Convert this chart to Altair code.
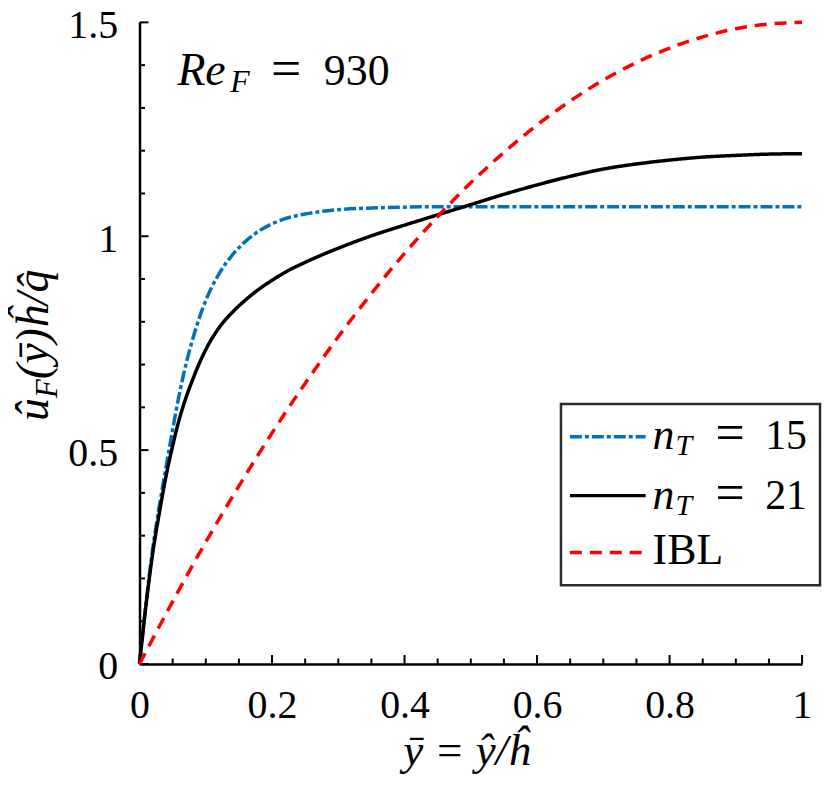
import altair as alt
import pandas as pd

# ---- data ----
x_t = [0, 0.01, 0.02, 0.03, 0.04, 0.05, 0.06, 0.07, 0.08, 0.09, 0.10, 0.12, 0.14,
       0.16, 0.18, 0.20, 0.22, 0.25, 0.30, 0.35, 0.40, 0.45, 0.50, 0.55, 0.60,
       0.65, 0.70, 0.75, 0.80, 0.85, 0.90, 0.95, 1.00]
u_n15 = [0, 0.145, 0.27, 0.37, 0.46, 0.548, 0.63, 0.70, 0.758, 0.808, 0.85, 0.912,
         0.956, 0.988, 1.012, 1.029, 1.041, 1.052, 1.062, 1.066, 1.068, 1.069, 1.069,
         1.069, 1.069, 1.069, 1.069, 1.069, 1.069, 1.069, 1.069, 1.069, 1.069]
u_n21 = [0, 0.14, 0.26, 0.354, 0.439, 0.51, 0.572, 0.622, 0.664, 0.702, 0.735, 0.786,
         0.822, 0.851, 0.876, 0.897, 0.916, 0.939, 0.972, 1.001, 1.026, 1.050,
         1.074, 1.098, 1.120, 1.140, 1.157, 1.169, 1.178, 1.185, 1.189, 1.192, 1.193]
x_ibl = [0, 0.05, 0.10, 0.15, 0.20, 0.25, 0.30, 0.35, 0.40, 0.45, 0.50, 0.55,
         0.60, 0.65, 0.70, 0.75, 0.80, 0.85, 0.90, 0.95, 1.00]
u_ibl = [0, 0.146, 0.285, 0.416, 0.54, 0.656, 0.765, 0.866, 0.96, 1.046, 1.125,
         1.196, 1.26, 1.316, 1.365, 1.406, 1.44, 1.466, 1.485, 1.496, 1.5]

x_major = [0, 0.2, 0.4, 0.6, 0.8, 1.0]
x_minor = [0.05, 0.1, 0.15, 0.25, 0.3, 0.35, 0.45, 0.5, 0.55, 0.65, 0.7, 0.75,
           0.85, 0.9, 0.95]
y_major = [0, 0.5, 1.0, 1.5]
y_minor = [0.1, 0.2, 0.3, 0.4, 0.6, 0.7, 0.8, 0.9, 1.1, 1.2, 1.3, 1.4]

W, H = 665, 644
FONT = "Liberation Serif"
BLUE = "#0072BD"
RED = "#FF0000"

xs = alt.Scale(domain=[0, 1], nice=False, zero=False)
ys = alt.Scale(domain=[0, 1.5], nice=False, zero=False)
x_axis = alt.Axis(values=x_major, format="~g", title="ȳ = ŷ/ĥ", labelFlush=False,
                  labelOverlap=False, labelPadding=54, labelBaseline="alphabetic",
                  titleX=328, titleY=101, titleBaseline="alphabetic",
                  titleFontStyle="italic", titleFontSize=45, titleFont=FONT,
                  titleFontWeight="normal", titleColor="black")
y_axis = alt.Axis(values=y_major, format="~g", title="", labelFlush=False,
                  labelOverlap=False, labelPadding=22, labelOffset=3)

one = pd.DataFrame({"k": [0]})


def curve(xv, yv, color, dash, width):
    df = pd.DataFrame({"x": xv, "y": yv})
    return alt.Chart(df).mark_line(color=color, strokeDash=dash, strokeWidth=width,
                                   interpolate="monotone").encode(
        x=alt.X("x:Q", scale=xs, axis=x_axis),
        y=alt.Y("y:Q", scale=ys, axis=y_axis))


def xticks(vals, length):
    return alt.Chart(pd.DataFrame({"x": vals})).mark_rule(color="black", strokeWidth=2).encode(
        x=alt.X("x:Q", scale=xs, axis=x_axis), y=alt.value(H), y2=alt.value(H - length))


def yticks(vals, length):
    return alt.Chart(pd.DataFrame({"y": vals})).mark_rule(color="black", strokeWidth=2).encode(
        y=alt.Y("y:Q", scale=ys, axis=y_axis), x=alt.value(0), x2=alt.value(length))


def label(text, x, y, size, italic=False, angle=0):
    return alt.Chart(one).mark_text(text=text, font=FONT, fontSize=size,
                                    fontStyle="italic" if italic else "normal",
                                    align="left", baseline="alphabetic", angle=angle,
                                    color="black").encode(x=alt.value(x), y=alt.value(y))


def sample(y, color, dash):
    return alt.Chart(one).mark_rule(color=color, strokeDash=dash, strokeWidth=3.5).encode(
        x=alt.value(432), x2=alt.value(508), y=alt.value(y))


layers = [
    xticks(x_major, 9), xticks(x_minor, 5.5),
    yticks(y_major, 9), yticks(y_minor, 5.5),
    curve(x_t, u_n15, BLUE, [12, 3, 4, 3], 3.5),
    curve(x_t, u_n21, "black", [1, 0], 3.5),
    curve(x_ibl, u_ibl, RED, [12, 8], 3.5),
    # annotation
    label("Re", 38, 63, 46, italic=True),
    label("F", 91, 70, 32, italic=True),
    label("=", 132, 64, 54),
    label("930", 185, 63, 44),
    # y-axis title (rotated pieces)
    label("û", -92, 400, 46, italic=True, angle=270),
    label("F", -83, 377, 31, italic=True, angle=270),
    label("(ȳ)ĥ/q̂", -92, 358, 46, italic=True, angle=270),
    # legend
    alt.Chart(one).mark_rect(fill="white", stroke="#2b2b2b", strokeWidth=2.5).encode(
        x=alt.value(423), x2=alt.value(683), y=alt.value(383), y2=alt.value(565)),
    sample(416, BLUE, [12, 3, 4, 3]),
    sample(475, "black", [1, 0]),
    sample(532, RED, [12, 8]),
    label("n", 515, 428, 44, italic=True),
    label("T", 538, 434, 30, italic=True),
    label("=", 578, 429, 52),
    label("15", 628, 428, 42),
    label("n", 515, 488, 44, italic=True),
    label("T", 538, 494, 30, italic=True),
    label("=", 578, 489, 52),
    label("21", 628, 488, 42),
    label("IBL", 515, 544, 44),
]

chart = alt.layer(*layers).properties(
    width=W, height=H,
    padding={"left": 132, "top": 13, "right": 20, "bottom": 112},
    autosize=alt.AutoSizeParams(type="none"),
    background="white",
).configure_view(stroke="transparent").configure_axis(
    grid=False, ticks=False, tickSize=0, domainColor="black", domainWidth=2.5,
    labelFont=FONT, labelFontSize=40, labelColor="black",
)

chart.save("out.html", embed_options={"renderer": "svg", "actions": False})
